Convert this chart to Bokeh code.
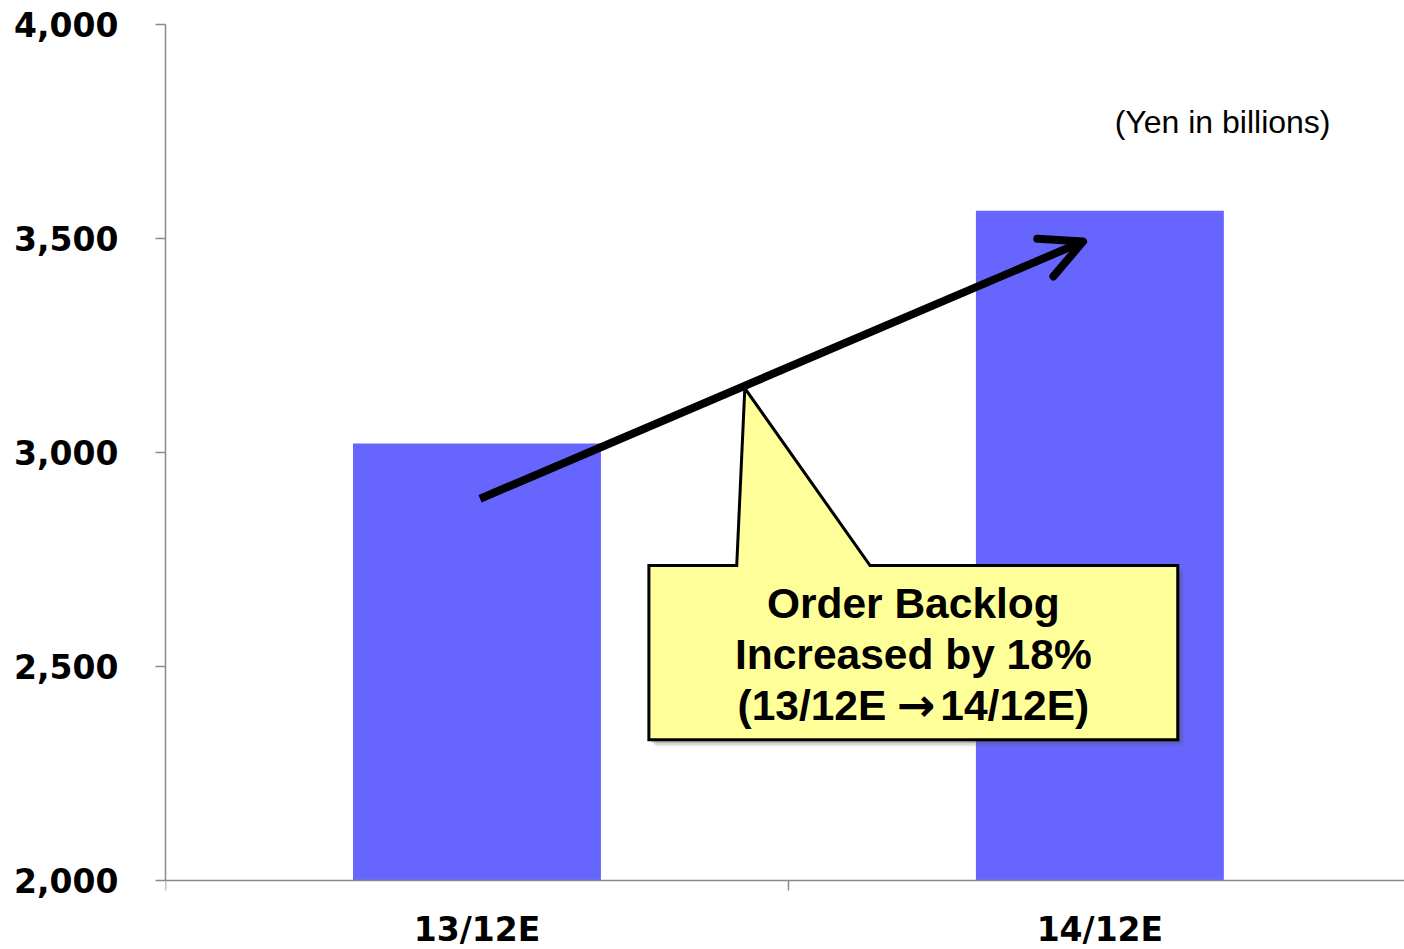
from bokeh.plotting import figure
from bokeh.models import (FixedTicker, NumeralTickFormatter, Range1d, Arrow,
                          OpenHead, ColumnDataSource)
from bokeh.core.properties import value
from bokeh.embed import file_html
from bokeh.resources import INLINE

# Order backlog, yen in billions
categories = ["13/12E", "14/12E"]
backlog = [3021, 3565]
y_ticks = [2000, 2500, 3000, 3500, 4000]
unit_note = "(Yen in billions)"
callout_lines = ["Order Backlog", "Increased by 18%"]
callout_from, callout_arrow, callout_to = "(13/12E", "\u2192", "14/12E)"

x_pos = [i + 0.5 for i in range(len(categories))]

Y0, Y1 = 2000, 4000
PX_PER_X = 623.0      # pixels per category unit
PX_PER_Y = 0.428      # pixels per billion yen
BOTTOM_SPACE = 69     # room under the baseline for the category names

p = figure(width=1404, height=949, output_backend="svg", toolbar_location=None,
           x_range=Range1d(0, 1.989),
           y_range=Range1d(Y0 - BOTTOM_SPACE / PX_PER_Y, Y1),
           min_border_left=165, min_border_right=0, min_border_top=24,
           min_border_bottom=0)
p.outline_line_color = None
p.grid.visible = False
p.background_fill_color = "white"
p.border_fill_color = "white"

bars = ColumnDataSource(dict(x=x_pos, top=backlog))
p.vbar(x="x", top="top", bottom=Y0, width=0.398, source=bars,
       fill_color="#6666FF", line_color=None)

axis_color = "#8a8a8a"
tick_font = "DejaVu Sans"

# y axis, drawn only over the value span
p.yaxis.bounds = (Y0, Y1)
p.yaxis.ticker = FixedTicker(ticks=y_ticks, minor_ticks=[])
p.yaxis.formatter = NumeralTickFormatter(format="0,0")
p.yaxis.axis_line_color = axis_color
p.yaxis.axis_line_width = 1.5
p.yaxis.major_tick_line_color = axis_color
p.yaxis.major_tick_line_width = 1.5
p.yaxis.major_tick_out = 10
p.yaxis.major_tick_in = 0
p.yaxis.major_label_standoff = 37
p.yaxis.major_label_text_font = tick_font
p.yaxis.major_label_text_font_style = "bold"
p.yaxis.major_label_text_font_size = "33px"
p.yaxis.major_label_text_color = "black"

# x axis sits on the 2,000 baseline: boundary ticks, names at bar centres
p.xaxis.fixed_location = Y0
p.xaxis.ticker = FixedTicker(ticks=x_pos, minor_ticks=[0, 1, 2])
p.xaxis.major_label_overrides = {x: c for x, c in zip(x_pos, categories)}
p.xaxis.axis_line_color = axis_color
p.xaxis.axis_line_width = 1.5
p.xaxis.major_tick_out = 0
p.xaxis.major_tick_in = 0
p.xaxis.minor_tick_line_color = axis_color
p.xaxis.minor_tick_line_width = 1.5
p.xaxis.minor_tick_out = 10
p.xaxis.minor_tick_in = 0
p.xaxis.major_label_standoff = 19
p.xaxis.major_label_text_font = tick_font
p.xaxis.major_label_text_font_style = "bold"
p.xaxis.major_label_text_font_size = "33px"
p.xaxis.major_label_text_color = "black"

# growth arrow from the first bar towards the second
p.add_layout(Arrow(x_start=0.505, y_start=2892, x_end=1.473, y_end=3493,
                   line_color="black", line_width=8,
                   end=OpenHead(size=41, line_color="black", line_width=8,
                                line_cap="round", line_join="round")))

# callout box with pointer
bx0, bx1, by0, by1 = 0.776, 1.625, 2329, 2736
ptr_l, ptr_apex_x, ptr_apex_y, ptr_r = 0.917, 0.930, 3150, 1.131
cx = [bx0, ptr_l, ptr_apex_x, ptr_r, bx1, bx1, bx0]
cy = [by1, by1, ptr_apex_y, by1, by1, by0, by0]

# soft drop shadow
for dpx, alpha in [(7, 0.10), (5, 0.18), (3, 0.25)]:
    dx = dpx / PX_PER_X
    dy = dpx / PX_PER_Y
    p.patch([v + dx for v in cx], [v - dy for v in cy],
            fill_color="#555555", fill_alpha=alpha, line_color=None)

p.patch(cx, cy, fill_color="#FFFF99", line_color="black", line_width=3,
        line_join="miter")

text_x = (bx0 + bx1) / 2
text_y = [2647, 2528, 2409]
callout_font = dict(text_font=value("Liberation Sans"), text_font_style="bold",
                    text_font_size="42.5px", text_baseline="middle",
                    text_color="black")
p.text(x=[text_x] * 2, y=text_y[:2], text=callout_lines,
       text_align="center", **callout_font)

# third line: period change with a heavy arrow between the two periods
arrow_x = text_x + 5 / PX_PER_X
p.text(x=[arrow_x - 32 / PX_PER_X], y=[text_y[2]], text=[callout_from],
       text_align="right", **callout_font)
p.text(x=[arrow_x + 22 / PX_PER_X], y=[text_y[2]], text=[callout_to],
       text_align="left", **callout_font)
p.text(x=[arrow_x - 2 / PX_PER_X], y=[text_y[2]], text=[callout_arrow],
       text_align="center", text_font=value("DejaVu Sans"),
       text_font_style="bold", text_font_size="46px", text_baseline="middle",
       text_color="black")

p.text(x=[1.697], y=[3773], text=[unit_note],
       text_font=value("Liberation Sans"), text_font_size="32px",
       text_align="center", text_baseline="middle", text_color="black")

open("out.html", "w").write(file_html(p, INLINE))
